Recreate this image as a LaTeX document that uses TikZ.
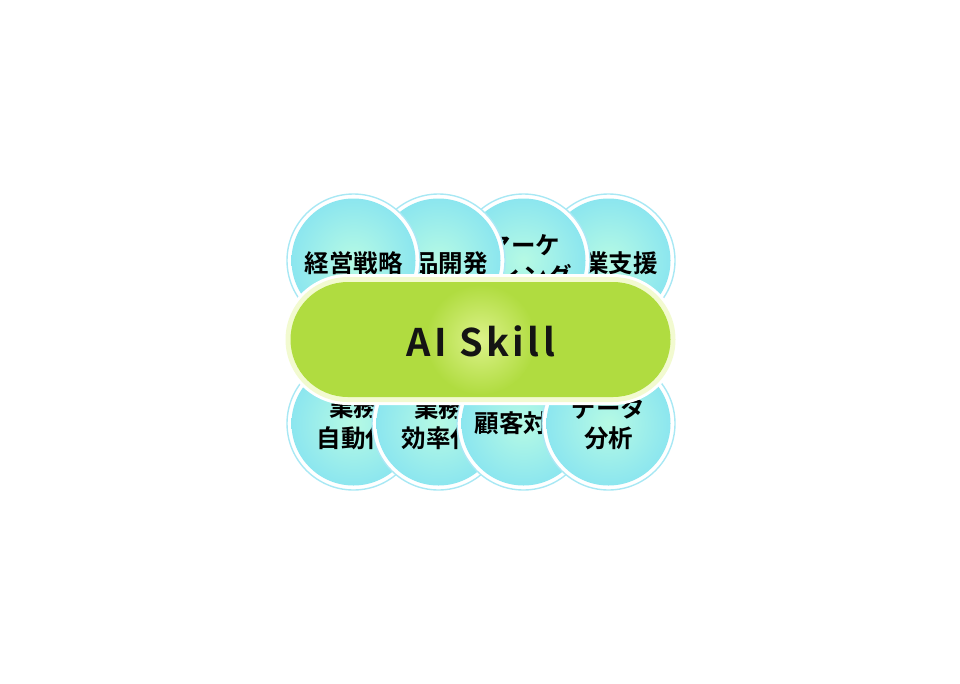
\documentclass[tikz,border=0pt]{standalone}
\usepackage{fontspec}
\newfontfamily\jp{Noto Sans CJK JP Bold}
\newfontfamily\jpls{Noto Sans CJK JP Bold}[LetterSpace=9]
\definecolor{cyanedge}{HTML}{8CE6EF}
\definecolor{mintcenter}{HTML}{B6FAE4}
\definecolor{ringline}{HTML}{A8E8F4}
\definecolor{pillgreen}{HTML}{B0DC40}
\definecolor{pillglow}{HTML}{DCF28A}
\definecolor{cream}{HTML}{F2FAD0}
\tikzset{
  ringbox/.style={circle, fill=white, draw=ringline, line width=1.4pt, minimum size=133pt, inner sep=0pt},
  ballbox/.style={circle, shading=radial, inner color=mintcenter, outer color=cyanedge, minimum size=124pt, inner sep=0pt},
  balltext/.style={font=\jp\fontsize{24.5}{30.5}\selectfont, align=center, text=black, inner sep=0pt},
}
\begin{document}
\begin{tikzpicture}[x=1pt,y=-1pt]
\useasboundingbox (0,0) rectangle (960,683);
% top row: drawn right to left (left one on top)
\foreach \n/\x/\y/\t in {t4/608.5/263/営業支援, t3/523.5/261/マーケ\\ティング, t2/438.5/263/商品開発, t1/353.5/263/経営戦略}{
  \node[ringbox] (\n ring) at (\x,260.5) {};
  \node[ballbox] (\n) at (\x,260.5) {};
  \node[balltext] (\n txt) at (\x,\y) {\t};
}
% bottom row: drawn left to right (right one on top)
\foreach \n/\x/\y/\t in {b1/353.5/423/業務\\自動化, b2/438.5/423/業務\\効率化, b3/523.5/423.5/顧客対応, b4/608.5/423/データ\\分析}{
  \node[ringbox] (\n ring) at (\x,423.5) {};
  \node[ballbox] (\n) at (\x,423.5) {};
  \node[balltext] (\n txt) at (\x,\y) {\t};
}
% central pill
\node[fill=white, minimum width=396pt, minimum height=131pt, inner sep=0pt,
      rounded corners=65.5pt] (halo) at (480.5,339.5) {};
\node[fill=cream, minimum width=390pt, minimum height=125pt, inner sep=0pt,
      rounded corners=62.5pt] (pillring) at (480.5,339.5) {};
\node[fill=pillgreen, minimum width=380pt, minimum height=115pt, inner sep=0pt,
      rounded corners=57.5pt] (pill) at (480.5,339.5) {};
\node[circle, shading=radial, inner color=pillglow, outer color=pillgreen, minimum size=110pt, inner sep=0pt] (glow) at (480.5,339.5) {};
\node[font=\jpls\fontsize{38}{44}\selectfont, text=black!92, inner sep=0pt] (label) at (481,341) {AI Skill};
\end{tikzpicture}
\end{document}
